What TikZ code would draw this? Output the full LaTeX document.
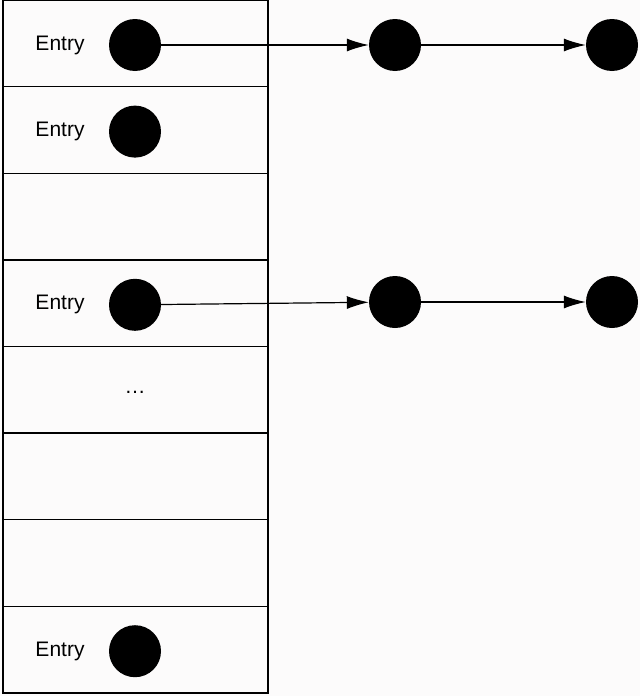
\documentclass[tikz,border=0pt]{standalone}
\usepackage{fontspec}
\setmainfont{Liberation Sans}
\usetikzlibrary{positioning, arrows.meta}
\definecolor{bgcol}{RGB}{252,251,251}
\begin{document}
\begin{tikzpicture}[x=1pt, y=-1pt,
    cell/.style={draw, line width=1.4pt, minimum width=265pt, minimum height=86.6pt, inner sep=0pt},
    dot/.style={circle, fill=black, minimum size=52pt, inner sep=0pt},
    label/.style={font=\fontsize{21}{24}\selectfont},
    link/.style={-{Latex[length=22pt, width=13pt]}, line width=1.2pt}]

    % Background
    \fill[bgcol] (0, 0) rectangle (640, 696);
    \useasboundingbox (0, 0) rectangle (640, 696);

    % Table rows
    \foreach \i in {1,...,8} {
        \node[cell] (row\i) at (135.5, {43.3 + (\i-1)*86.6}) {};
    }

    % Entries
    \foreach \i in {1,2,4,8} {
        \node[label] (entry\i) at (60, {45 + (\i-1)*86.6}) {Entry};
        \node[dot] (head\i) at (135, {45 + (\i-1)*86.6}) {};
    }
    \node[label] (dots) at (135, 392) {\dots};

    % Chains
    \node[dot] (a1) at (395, 45) {};
    \node[dot] (a2) at (612, 45) {};
    \node[dot] (b1) at (395, 302) {};
    \node[dot] (b2) at (612, 302) {};

    \draw[link] (head1.center) -- (a1);
    \draw[link] (a1.center) -- (a2);
    \draw[link] (head4.center) -- (b1);
    \draw[link] (b1.center) -- (b2);

\end{tikzpicture}
\end{document}
